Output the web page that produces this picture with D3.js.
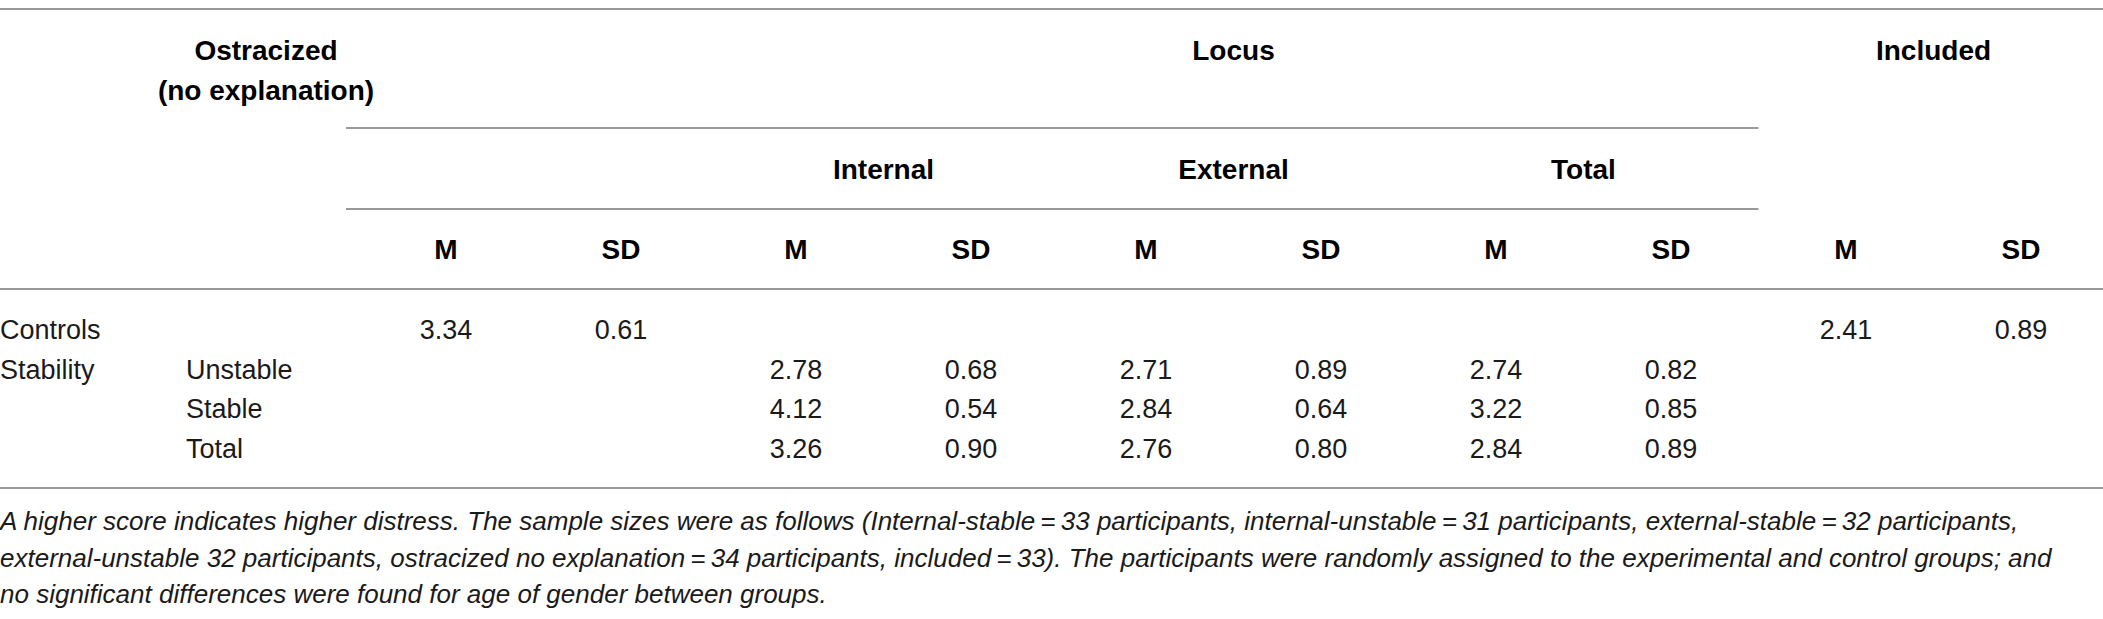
<!DOCTYPE html>
<html>
<head>
<meta charset="utf-8">
<script src="https://cdn.jsdelivr.net/npm/d3@7"></script>
<style>
  html, body { margin: 0; padding: 0; background: #fff; }
  text { font-family: "Liberation Sans", Arial, sans-serif; fill: #1a1a1a; }
  .hd { font-weight: bold; font-size: 28px; fill: #000; }
  .bd { font-size: 27px; }
  .note { font-size: 26px; font-style: italic; }
</style>
</head>
<body>
<div id="table"></div>
<script>
// columns of the table
var colKeys = ["ostM", "ostSD", "intM", "intSD", "extM", "extSD", "totM", "totSD", "incM", "incSD"];
var statLabels = ["M", "SD", "M", "SD", "M", "SD", "M", "SD", "M", "SD"];
var locusLabels = ["Internal", "External", "Total"];
var locusCols = [["intM", "intSD"], ["extM", "extSD"], ["totM", "totSD"]];

// row labels
var rowGroups = ["Controls", "Stability", "", ""];
var rowLevels = ["", "Unstable", "Stable", "Total"];

// values per row (null = empty cell)
var controlsRow = [3.34, 0.61, null, null, null, null, null, null, 2.41, 0.89];
var unstableRow = [null, null, 2.78, 0.68, 2.71, 0.89, 2.74, 0.82, null, null];
var stableRow = [null, null, 4.12, 0.54, 2.84, 0.64, 3.22, 0.85, null, null];
var totalRow = [null, null, 3.26, 0.90, 2.76, 0.80, 2.84, 0.89, null, null];
var rows = [controlsRow, unstableRow, stableRow, totalRow];

var noteLines = [
	"A higher score indicates higher distress. The sample sizes were as follows (Internal-stable\u2009=\u200933 participants, internal-unstable\u2009=\u200931 participants, external-stable\u2009=\u200932 participants,",
	"external-unstable 32 participants, ostracized no explanation\u2009=\u200934 participants, included\u2009=\u200933). The participants were randomly assigned to the experimental and control groups; and",
	"no significant differences were found for age of gender between groups."
];

var width = 2103, height = 619;

var svg = d3.select("#table")
	.append("svg")
	.attr("width", width)
	.attr("height", height);

var x = d3.scalePoint().domain(colKeys).range([446, 2021]);
var rowY = d3.scalePoint().domain(d3.range(rows.length)).range([339, 458]);

function mid(a, b) { return (x(a) + x(b)) / 2; }

// rules
var ruleStart = x("ostM") - 100;
var ruleEnd = mid("totSD", "incM");
var rules = [
	{ y: 9, x1: 0, x2: width },
	{ y: 128, x1: ruleStart, x2: ruleEnd },
	{ y: 209, x1: ruleStart, x2: ruleEnd },
	{ y: 289, x1: 0, x2: width },
	{ y: 488, x1: 0, x2: width }
];
svg.selectAll(".rule")
	.data(rules)
	.enter()
	.append("line")
	.attr("class", "rule")
	.attr("x1", function (d) { return d.x1; })
	.attr("x2", function (d) { return d.x2; })
	.attr("y1", function (d) { return d.y; })
	.attr("y2", function (d) { return d.y; })
	.attr("style", "stroke:#999;stroke-width:2");

// top header row
svg.append("text").attr("class", "hd")
	.attr("x", x("ostM") - 180).attr("y", 60)
	.attr("text-anchor", "middle").text("Ostracized");
svg.append("text").attr("class", "hd")
	.attr("x", x("ostM") - 180).attr("y", 100)
	.attr("text-anchor", "middle").text("(no explanation)");
svg.append("text").attr("class", "hd")
	.attr("x", mid("intM", "totSD")).attr("y", 60)
	.attr("text-anchor", "middle").text("Locus");
svg.append("text").attr("class", "hd")
	.attr("x", mid("incM", "incSD")).attr("y", 60)
	.attr("text-anchor", "middle").text("Included");

// locus sub headers
svg.selectAll(".sub")
	.data(locusLabels)
	.enter()
	.append("text")
	.attr("class", "hd sub")
	.attr("x", function (d, i) { return mid(locusCols[i][0], locusCols[i][1]); })
	.attr("y", 179)
	.attr("text-anchor", "middle")
	.text(function (d) { return d; });

// M / SD row
svg.selectAll(".stat")
	.data(statLabels)
	.enter()
	.append("text")
	.attr("class", "hd stat")
	.attr("x", function (d, i) { return x(colKeys[i]); })
	.attr("y", 259)
	.attr("text-anchor", "middle")
	.text(function (d) { return d; });

// body
svg.selectAll(".grp")
	.data(rowGroups)
	.enter()
	.append("text")
	.attr("class", "bd grp")
	.attr("x", 0)
	.attr("y", function (d, i) { return rowY(i); })
	.text(function (d) { return d; });

svg.selectAll(".lvl")
	.data(rowLevels)
	.enter()
	.append("text")
	.attr("class", "bd lvl")
	.attr("x", 186)
	.attr("y", function (d, i) { return rowY(i); })
	.text(function (d) { return d; });

rows.forEach(function (r, ri) {
	svg.selectAll(".v" + ri)
		.data(r)
		.enter()
		.append("text")
		.attr("class", "bd v" + ri)
		.attr("x", function (d, i) { return x(colKeys[i]); })
		.attr("y", rowY(ri))
		.attr("text-anchor", "middle")
		.text(function (d) { return d == null ? "" : d.toFixed(2); });
});

// footnote
svg.selectAll(".note")
	.data(noteLines)
	.enter()
	.append("text")
	.attr("class", "note")
	.attr("x", 0)
	.attr("y", function (d, i) { return 530 + i * 36.5; })
	.text(function (d) { return d; });
</script>
</body>
</html>
